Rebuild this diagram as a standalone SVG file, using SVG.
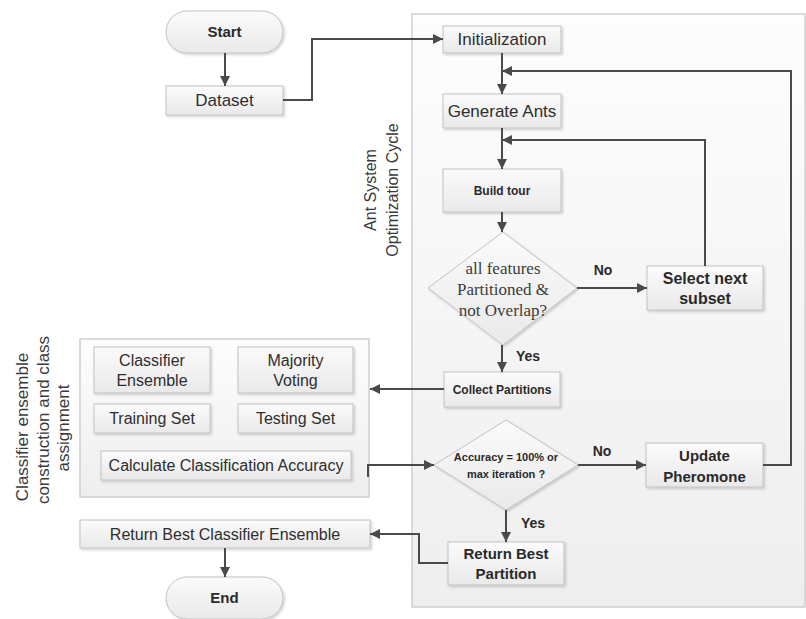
<svg xmlns="http://www.w3.org/2000/svg" width="806" height="619" viewBox="0 0 806 619">
<defs>
<linearGradient id="gBox" x1="0" y1="0" x2="0" y2="1">
<stop offset="0" stop-color="#fbfbfb"/>
<stop offset="1" stop-color="#e9e9e9"/>
</linearGradient>
<linearGradient id="gPanel" x1="0" y1="0" x2="0" y2="1">
<stop offset="0" stop-color="#fdfdfd"/>
<stop offset="1" stop-color="#eeeeee"/>
</linearGradient>
<filter id="sh" x="-10%" y="-10%" width="130%" height="140%">
<feDropShadow dx="1.5" dy="1.5" stdDeviation="1" flood-color="#000" flood-opacity="0.18"/>
</filter>
<marker id="ar" viewBox="0 0 10 10" refX="10" refY="5" markerWidth="11" markerHeight="10" markerUnits="userSpaceOnUse" orient="auto">
<path d="M0,0 L10,5 L0,10 Z" fill="#4a4a4a"/>
</marker>
</defs>
<style>
.box{fill:url(#gBox);stroke:#c2c2c2;stroke-width:1;filter:url(#sh)}
.panel{fill:url(#gPanel);stroke:#cfcfcf;stroke-width:1.5}
.t{font-family:"Liberation Sans",Arial,sans-serif;font-size:16px;fill:#2e2e2e;text-anchor:middle}
.b{font-family:"Liberation Sans",Arial,sans-serif;font-weight:bold;fill:#2a2a2a;text-anchor:middle}
.s{font-family:"Liberation Serif","Times New Roman",serif;font-size:17px;fill:#3c3c3c;text-anchor:middle}
.c{fill:none;stroke:#4a4a4a;stroke-width:2}
.v{font-family:"Liberation Sans",Arial,sans-serif;font-size:16px;fill:#3a3a3a;text-anchor:middle}
</style>
<rect width="806" height="619" fill="#ffffff"/>

<g id="panel-ant">
<rect class="panel" x="412" y="14" width="393" height="593"/>
</g>
<g id="label-ant">
<text class="v" transform="translate(376,190) rotate(-90)">Ant System</text>
<text class="v" transform="translate(398,190) rotate(-90)">Optimization Cycle</text>
</g>
<g id="panel-classifier">
<rect class="panel" x="80" y="339" width="289" height="158"/>
</g>
<g id="label-classifier">
<text class="v" style="font-size:17px" transform="translate(28,427) rotate(-90)">Classifier ensemble</text>
<text class="v" style="font-size:17px" transform="translate(49,420) rotate(-90)">construction and class</text>
<text class="v" style="font-size:17px" transform="translate(69,428) rotate(-90)">assignment</text>
</g>

<g id="start">
<rect class="box" x="166" y="11" width="117" height="42" rx="21" ry="21"/>
<text class="b" x="224.5" y="37" style="font-size:15px">Start</text>
</g>
<g id="dataset">
<rect class="box" x="166" y="86" width="117" height="29"/>
<text class="t" x="224.5" y="106" style="font-size:17px">Dataset</text>
</g>
<g id="initialization">
<rect class="box" x="443" y="26" width="118" height="27"/>
<text class="t" x="502" y="45" style="font-size:17px">Initialization</text>
</g>
<g id="generate-ants">
<rect class="box" x="443" y="94" width="118" height="34"/>
<text class="t" x="502" y="117" style="font-size:17px">Generate Ants</text>
</g>
<g id="build-tour">
<rect class="box" x="443" y="169" width="118" height="43"/>
<text class="b" x="502" y="195" style="font-size:12px">Build tour</text>
</g>
<g id="decision-partitioned">
<polygon class="box" points="503,232 577,288 503,345 428,288"/>
<text class="s" x="503" y="274">all features</text>
<text class="s" x="503" y="295">Partitioned &amp;</text>
<text class="s" x="503" y="316">not Overlap?</text>
</g>
<g id="select-next">
<rect class="box" x="647" y="266" width="116" height="44"/>
<text class="b" x="705" y="284" style="font-size:16px">Select next</text>
<text class="b" x="705" y="304" style="font-size:16px">subset</text>
</g>
<g id="collect-partitions">
<rect class="box" x="444" y="372" width="116" height="35"/>
<text class="b" x="502" y="394" style="font-size:12px">Collect Partitions</text>
</g>
<g id="decision-accuracy">
<polygon class="box" points="506,420 578,465 506,510 434,465"/>
<text class="b" x="506" y="461" style="font-size:11px">Accuracy = 100% or</text>
<text class="b" x="506" y="478" style="font-size:11px">max iteration ?</text>
</g>
<g id="update-pheromone">
<rect class="box" x="646" y="443" width="117" height="44"/>
<text class="b" x="704.5" y="461" style="font-size:15px">Update</text>
<text class="b" x="704.5" y="482" style="font-size:15px">Pheromone</text>
</g>
<g id="return-best-partition">
<rect class="box" x="448" y="542" width="116" height="43"/>
<text class="b" x="506" y="559" style="font-size:15px">Return Best</text>
<text class="b" x="506" y="579" style="font-size:15px">Partition</text>
</g>
<g id="classifier-ensemble">
<rect class="box" x="94" y="347" width="116" height="46"/>
<text class="t" x="152" y="366">Classifier</text>
<text class="t" x="152" y="386">Ensemble</text>
</g>
<g id="majority-voting">
<rect class="box" x="238" y="347" width="115" height="46"/>
<text class="t" x="295.5" y="366">Majority</text>
<text class="t" x="295.5" y="386">Voting</text>
</g>
<g id="training-set">
<rect class="box" x="94" y="404" width="116" height="29"/>
<text class="t" x="152" y="424">Training Set</text>
</g>
<g id="testing-set">
<rect class="box" x="238" y="404" width="115" height="29"/>
<text class="t" x="295.5" y="424">Testing Set</text>
</g>
<g id="calc-accuracy">
<rect class="box" x="101" y="451" width="250" height="29"/>
<text class="t" x="226" y="471">Calculate Classification Accuracy</text>
</g>
<g id="return-best-ensemble">
<rect class="box" x="80" y="520" width="290" height="28"/>
<text class="t" x="225" y="540">Return Best Classifier Ensemble</text>
</g>
<g id="end">
<rect class="box" x="166" y="577" width="117" height="42" rx="21" ry="21"/>
<text class="b" x="224.5" y="603" style="font-size:15px">End</text>
</g>

<g id="connectors">
<path class="c" d="M225,53 V86" marker-end="url(#ar)"/>
<path class="c" d="M283,100 H312 V39 H443" marker-end="url(#ar)"/>
<path class="c" d="M502,53 V94" marker-end="url(#ar)"/>
<path class="c" d="M502,128 V169" marker-end="url(#ar)"/>
<path class="c" d="M502,212 V232" marker-end="url(#ar)"/>
<path class="c" d="M577,288 H647" marker-end="url(#ar)"/>
<path class="c" d="M705,266 V140 H502" marker-end="url(#ar)"/>
<path class="c" d="M502,345 V372" marker-end="url(#ar)"/>
<path class="c" d="M444,389 H370" marker-end="url(#ar)"/>
<path class="c" d="M368,477 V465 H434" marker-end="url(#ar)"/>
<path class="c" d="M578,465 H646" marker-end="url(#ar)"/>
<path class="c" d="M763,465 H791 V71 H502" marker-end="url(#ar)"/>
<path class="c" d="M506,510 V542" marker-end="url(#ar)"/>
<path class="c" d="M448,563 H419 V534 H370" marker-end="url(#ar)"/>
<path class="c" d="M225,548 V577" marker-end="url(#ar)"/>
<text class="b" x="603" y="275" style="font-size:14px">No</text>
<text class="b" x="528" y="361" style="font-size:14px">Yes</text>
<text class="b" x="602" y="456" style="font-size:14px">No</text>
<text class="b" x="533" y="528" style="font-size:14px">Yes</text>
</g>
</svg>
